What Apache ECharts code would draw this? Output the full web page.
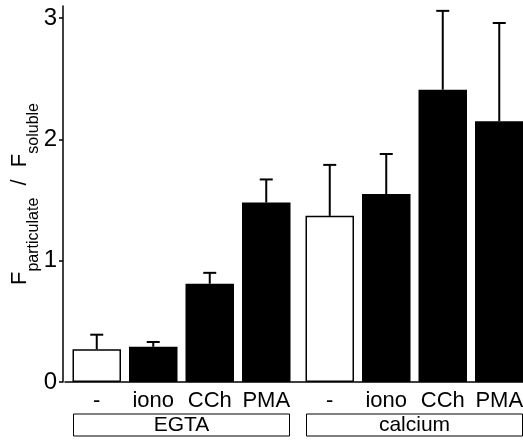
<!DOCTYPE html>
<html>
<head>
    <meta charset="utf-8">
    <script src="https://cdn.jsdelivr.net/npm/echarts@6/dist/echarts.min.js"></script>
    <style>
        html, body { margin: 0; padding: 0; background: #fff; }
    </style>
</head>
<body>
<div id="main" style="width: 523px;height:441px;"></div>

<script type="text/javascript">
    // data
    var treatments = ['-', 'iono', 'CCh', 'PMA'];
    var conditions = ['EGTA', 'calcium'];
    var egtaMean = [0.27, 0.29, 0.81, 1.48];
    var egtaErr = [0.12, 0.04, 0.09, 0.19];
    var calciumMean = [1.37, 1.55, 2.41, 2.15];
    var calciumErr = [0.42, 0.33, 0.65, 0.81];
    var yTicks = [0, 1, 2, 3];

    var font = 'Liberation Sans, Arial, Helvetica, sans-serif';
    var barWidth = 48.5;
    var barGapPx = 8;
    var barStep = barWidth + barGapPx;

    var series = [];
    var errData = [];
    for (var i = 0; i < treatments.length; i++) {
        series.push({
            name: treatments[i],
            type: 'bar',
            barWidth: barWidth,
            barGap: (barGapPx / barWidth * 100) + '%',
            data: [egtaMean[i], calciumMean[i]],
            itemStyle: {
                color: i === 0 ? '#fff' : '#000',
                borderColor: '#000',
                borderWidth: 1.5
            },
            label: {
                show: true,
                position: 'bottom',
                distance: 8,
                formatter: treatments[i],
                color: '#000',
                fontFamily: font,
                fontSize: 22
            }
        });
        errData.push([0, egtaMean[i], egtaErr[i], i]);
        errData.push([1, calciumMean[i], calciumErr[i], i]);
    }

    // error bars, only the upper half like the original
    series.push({
        type: 'custom',
        clip: false,
        z: 5,
        data: errData,
        renderItem: function (params, api) {
            var off = (api.value(3) - (treatments.length - 1) / 2) * barStep;
            var p0 = api.coord([api.value(0), api.value(1)]);
            var p1 = api.coord([api.value(0), api.value(1) + api.value(2)]);
            var x = p0[0] + off;
            var style = { stroke: '#000', lineWidth: 2 };
            return {
                type: 'group',
                children: [
                    { type: 'line', shape: { x1: x, y1: p0[1], x2: x, y2: p1[1] }, style: style },
                    { type: 'line', shape: { x1: x - 6.5, y1: p1[1], x2: x + 6.5, y2: p1[1] }, style: style }
                ]
            };
        }
    });

    var myChart = echarts.init(document.getElementById('main'));
    myChart.setOption({
        animation: false,
        backgroundColor: '#fff',
        grid: { left: 65, right: -8, top: 6, bottom: 59, containLabel: false, outerBoundsMode: 'none' },
        xAxis: {
            type: 'category',
            data: conditions,
            axisLine: { lineStyle: { color: '#000', width: 1.5 } },
            axisTick: { show: false },
            axisLabel: {
                interval: 0,
                hideOverlap: false,
                margin: 32,
                formatter: function (v) { return '{box|' + v + '}'; },
                rich: {
                    box: {
                        width: 216,
                        height: 22,
                        lineHeight: 22,
                        align: 'center',
                        borderColor: '#000',
                        borderWidth: 1,
                        color: '#000',
                        fontFamily: font,
                        fontSize: 21
                    }
                }
            }
        },
        yAxis: {
            type: 'value',
            min: 0,
            max: 3.1,
            interval: 1,
            offset: 2,
            splitLine: { show: false },
            axisLine: { show: true, lineStyle: { color: '#000', width: 1.5 } },
            axisTick: { show: true, length: 4, customValues: yTicks, lineStyle: { color: '#000', width: 1.5 } },
            axisLabel: { customValues: yTicks, margin: 6, color: '#000', fontFamily: font, fontSize: 24 },
            name: '{f|F}{s|particulate}{f|  /  F}{s|soluble}',
            nameLocation: 'middle',
            nameRotate: 90,
            nameGap: 3,
            nameMoveOverlap: false,
            nameTextStyle: {
                rich: {
                    f: { fontSize: 22, height: 24, lineHeight: 24, verticalAlign: 'top', color: '#000', fontFamily: font },
                    s: { fontSize: 16, lineHeight: 52, verticalAlign: 'middle', color: '#000', fontFamily: font }
                }
            }
        },
        series: series
    });
</script>
</body>
</html>
